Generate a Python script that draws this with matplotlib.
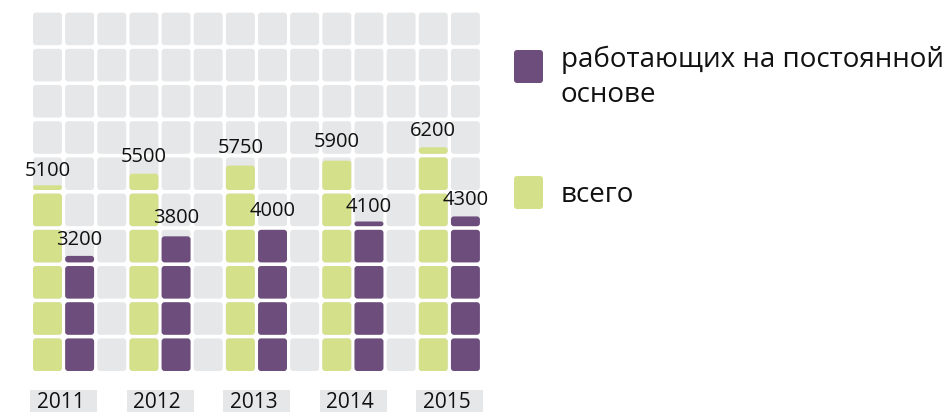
import matplotlib
matplotlib.use('Agg')
import matplotlib.pyplot as plt
from matplotlib.patches import FancyBboxPatch, Rectangle

# ---- data ----
years = ['2011', '2012', '2013', '2014', '2015']
total = [5100, 5500, 5750, 5900, 6200]          # всего
permanent = [3200, 3800, 4000, 4100, 4300]      # работающих на постоянной основе
legend_labels = ['работающих на постоянной\nоснове', 'всего']
cell_value = 1000

# ---- style ----
GRAY = '#e6e7e8'
GREEN = '#d4e18a'
PURPLE = '#6c4d7c'
FONT = ['Open Sans', 'DejaVu Sans']
plt.rcParams['font.family'] = FONT

W, H = 952, 412
fig = plt.figure(figsize=(W / 100, H / 100), dpi=100)

ncols, nrows = 3 * len(years) - 1, 10
px_x, px_y = 32.15, 36.2
x0 = 33 - 0.05 * px_x
y0 = 371 + 0.05 * px_y
ax = fig.add_axes([x0 / W, (H - y0) / H, ncols * px_x / W, nrows * px_y / H])
ax.set_xlim(0, ncols)
ax.set_ylim(0, nrows)
ax.axis('off')

aspect = px_x / px_y
rad = 3.0 / px_x


def cell(x, y, w, h, color, clip=True):
    rs = min(rad, (h / aspect) / 2, w / 2)
    p = FancyBboxPatch((x, y), w, h, boxstyle=f'round,pad=0,rounding_size={rs}',
                       mutation_aspect=aspect, facecolor=color, edgecolor='none',
                       clip_on=clip)
    ax.add_patch(p)


# background grid
for i in range(ncols):
    for r in range(nrows):
        cell(i + 0.05, r + 0.05, 0.9, 0.9, GRAY)


def bar(col, value, color):
    v = value / cell_value
    full = int(v)
    frac = v - full
    for r in range(full):
        cell(col + 0.05, r + 0.05, 0.9, 0.9, color)
    if frac > 1e-9:
        cell(col + 0.05, full + 0.05, 0.9, max(frac * 0.9, 0.13), color)
    ax.annotate(f'{value}', xy=(col + 0.5, v), xytext=(0, 12),
                textcoords='offset pixels', ha='center', va='baseline',
                fontsize=14.5, color='#111111', annotation_clip=False)


for k, y in enumerate(years):
    bar(3 * k, total[k], GREEN)
    bar(3 * k + 1, permanent[k], PURPLE)
    # year label box
    ax.add_patch(Rectangle((3 * k - 0.03, -1.3), 2.08, 1.3 - 0.475,
                           facecolor=GRAY, edgecolor='none', clip_on=False))
    ax.text(3 * k + 0.17, -0.97, y, ha='left', va='baseline', fontsize=15,
            color='#111111', clip_on=False)

# ---- legend (pixel coordinates) ----
lax = fig.add_axes([0, 0, 1, 1])
lax.set_xlim(0, W)
lax.set_ylim(H, 0)
lax.axis('off')
lax.set_zorder(-1)

legend_colors = [PURPLE, GREEN]
legend_tops = [50, 176]
legend_base = [17, 26]
for lab, colr, top, base in zip(legend_labels, legend_colors, legend_tops, legend_base):
    lax.add_patch(FancyBboxPatch((514, top), 29, 33,
                                 boxstyle='round,pad=0,rounding_size=3',
                                 facecolor=colr, edgecolor='none'))
    for j, line in enumerate(lab.split('\n')):
        lax.text(561, top + base + j * 35, line, ha='left', va='baseline',
                 fontsize=20, color='#111111')

fig.savefig('out.png', dpi=100)
